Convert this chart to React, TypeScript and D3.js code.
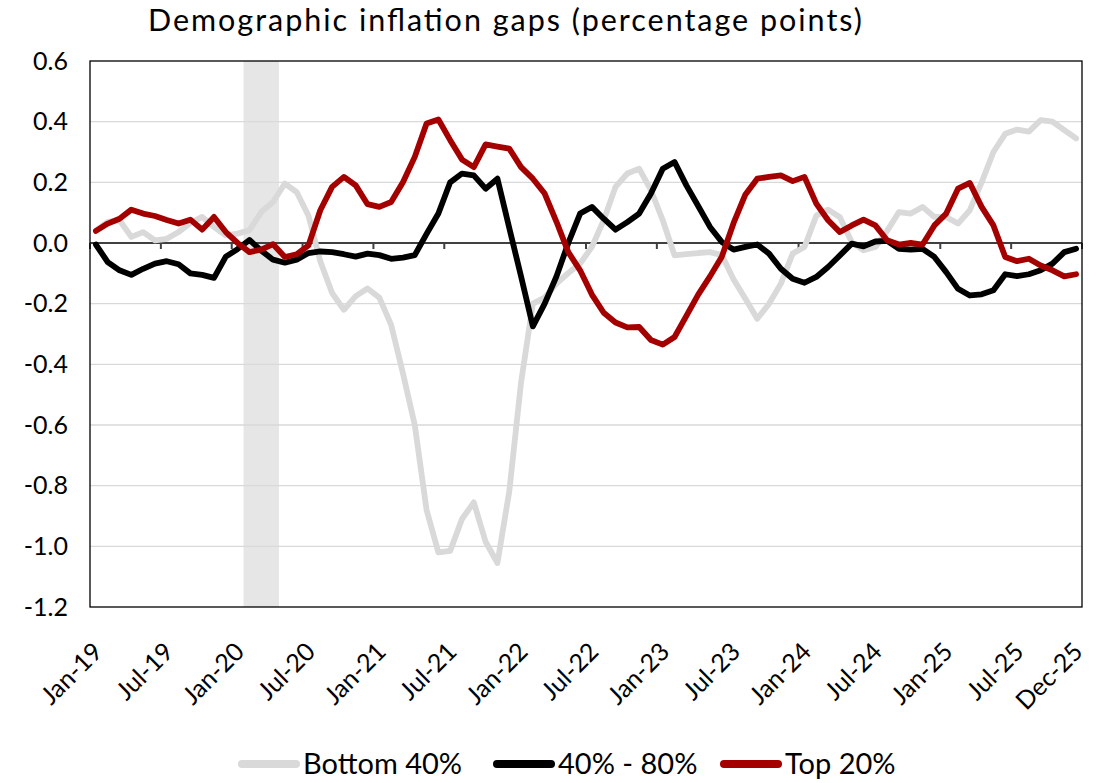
import React from "react";
import * as d3 from "d3";

// categories: one per month, Jan-19 .. Dec-25
const months: string[] = d3
  .timeMonth.range(new Date(2019, 0, 1), new Date(2026, 0, 1))
  .map(d3.timeFormat("%b-%y"));

const xTickLabels = [
  "Jan-19", "Jul-19", "Jan-20", "Jul-20", "Jan-21", "Jul-21", "Jan-22", "Jul-22",
  "Jan-23", "Jul-23", "Jan-24", "Jul-24", "Jan-25", "Jul-25", "Dec-25",
];

const yTicks = [0.6, 0.4, 0.2, 0, -0.2, -0.4, -0.6, -0.8, -1.0, -1.2];

const recessionMonths = ["Feb-20", "Mar-20", "Apr-20"];

const bottom40 = [
  0.04, 0.07, 0.075, 0.02, 0.036, 0.009, 0.014, 0.036, 0.066, 0.086,
  0.053, 0.025, 0.031, 0.042, 0.102, 0.135, 0.196, 0.168, 0.09, -0.06,
  -0.165, -0.22, -0.175, -0.15, -0.18, -0.27, -0.43, -0.6, -0.88, -1.02,
  -1.015, -0.91, -0.855, -0.985, -1.055, -0.82, -0.46, -0.2, -0.18, -0.134,
  -0.099, -0.068, -0.013, 0.075, 0.185, 0.229, 0.245, 0.174, 0.075, -0.041,
  -0.037, -0.033, -0.03, -0.04, -0.12, -0.184, -0.25, -0.2, -0.134, -0.035,
  -0.013, 0.09, 0.11, 0.085, 0.003, -0.024, -0.013, 0.04, 0.102, 0.097,
  0.119, 0.086, 0.086, 0.064, 0.108, 0.2, 0.3, 0.36, 0.374, 0.367,
  0.405, 0.4, 0.372, 0.345,
];

const mid40to80 = [
  -0.005, -0.063, -0.09, -0.105, -0.085, -0.068, -0.06, -0.07, -0.1, -0.105,
  -0.115, -0.045, -0.02, 0.01, -0.025, -0.055, -0.065, -0.055, -0.033, -0.028,
  -0.03, -0.037, -0.045, -0.035, -0.04, -0.052, -0.048, -0.04, 0.03, 0.097,
  0.2, 0.229, 0.223, 0.179, 0.212, 0.05, -0.11, -0.275, -0.2, -0.11,
  0.0, 0.097, 0.119, 0.08, 0.044, 0.069, 0.097, 0.163, 0.245, 0.267,
  0.19, 0.122, 0.053, 0.003, -0.022, -0.013, -0.005, -0.035, -0.085, -0.118,
  -0.131, -0.112, -0.079, -0.041, -0.002, -0.011, 0.005, 0.007, -0.019, -0.022,
  -0.019, -0.046, -0.096, -0.151, -0.173, -0.169, -0.156, -0.103, -0.109, -0.103,
  -0.09, -0.068, -0.03, -0.019,
];

const top20 = [
  0.04, 0.064, 0.08, 0.11, 0.097, 0.089, 0.076, 0.064, 0.077, 0.044,
  0.086, 0.036, 0.0, -0.03, -0.022, -0.004, -0.046, -0.037, -0.008, 0.108,
  0.185, 0.218, 0.19, 0.128, 0.119, 0.135, 0.2, 0.284, 0.394, 0.407,
  0.339, 0.275, 0.25, 0.325, 0.318, 0.311, 0.25, 0.212, 0.163, 0.07,
  -0.03, -0.09, -0.17, -0.23, -0.262, -0.278, -0.277, -0.32, -0.335, -0.31,
  -0.24, -0.17, -0.11, -0.045, 0.066, 0.16, 0.212, 0.218, 0.223, 0.204,
  0.218, 0.13, 0.075, 0.036, 0.058, 0.077, 0.058, 0.009, -0.005, 0.0,
  -0.005, 0.058, 0.097, 0.179, 0.198, 0.119, 0.058, -0.046, -0.06, -0.052,
  -0.074, -0.09, -0.11, -0.103,
];

const series = [
  { name: "Bottom 40%", values: bottom40, color: "#d9d9d9" },
  { name: "40% - 80%", values: mid40to80, color: "#000000" },
  { name: "Top 20%", values: top20, color: "#a50000" },
];

const W = 1109;
const H = 783;
const margin = { top: 61, right: 27, bottom: 176, left: 90 };
const FONT = "Lato, 'Open Sans', sans-serif";

export default function App() {
  const x = d3
    .scaleBand<string>()
    .domain(months)
    .range([margin.left, W - margin.right])
    .padding(0);
  const bw = x.bandwidth();
  const cx = (m: string) => (x(m) as number) + bw / 2;

  const y = d3
    .scaleLinear()
    .domain([-1.2, 0.6])
    .range([H - margin.bottom, margin.top]);

  const line = d3
    .line<number>()
    .x((_, i) => cx(months[i]))
    .y((v) => y(v));

  const [x0, x1] = x.range();
  const y0 = y(0);
  const lastLabel = xTickLabels[xTickLabels.length - 1];

  // legend item positions
  const legendX = [242, 497, 724];
  const legendY = 764;

  return (
    <div style={{ position: "absolute", left: 0, top: 0 }}>
      <svg width={W} height={H} style={{ display: "block", background: "#fff" }}>
        <text
          x={148}
          y={31}
          fontFamily={FONT}
          fontSize={30.5}
          fill="#000"
          textLength={714}
          lengthAdjust="spacing"
        >
          Demographic inflation gaps (percentage points)
        </text>

        {/* recession shading */}
        <rect
          x={x(recessionMonths[0])}
          y={y(0.6)}
          width={(x(recessionMonths[recessionMonths.length - 1]) as number) + bw - (x(recessionMonths[0]) as number)}
          height={y(-1.2) - y(0.6)}
          fill="#e6e6e6"
        />

        {/* gridlines */}
        {yTicks
          .filter((t) => t !== 0 && t !== 0.6 && t !== -1.2)
          .map((t) => (
            <line key={t} x1={x0} x2={x1} y1={y(t)} y2={y(t)} stroke="#d9d9d9" strokeWidth={1.3} />
          ))}

        {/* y labels */}
        {yTicks.map((t) => (
          <text
            key={"yl" + t}
            x={68}
            y={y(t)}
            dy="0.35em"
            textAnchor="end"
            fontFamily={FONT}
            fontSize={25}
            fill="#000"
          >
            {t.toFixed(1)}
          </text>
        ))}

        {/* zero axis with ticks */}
        <line x1={x0} x2={x1} y1={y0} y2={y0} stroke="#404040" strokeWidth={2} />
        {xTickLabels.map((l) => {
          const tx = l === lastLabel ? (x(l) as number) + bw : (x(l) as number);
          return <line key={"tk" + l} x1={tx} x2={tx} y1={y0} y2={y0 + 6} stroke="#404040" strokeWidth={2} />;
        })}

        {/* plot border */}
        <rect
          x={x0}
          y={y(0.6)}
          width={x1 - x0}
          height={y(-1.2) - y(0.6)}
          fill="none"
          stroke="#000"
          strokeWidth={1.3}
        />

        {/* series */}
        {series.map((s) => (
          <path
            key={s.name}
            d={line(s.values) || ""}
            fill="none"
            stroke={s.color}
            strokeWidth={5.8}
            strokeLinejoin="round"
            strokeLinecap="round"
          />
        ))}

        {/* x labels */}
        {xTickLabels.map((l) => {
          const px = cx(l) + 2;
          const py = 647;
          return (
            <text
              key={"xl" + l}
              x={px}
              y={py}
              dy="0.35em"
              textAnchor="end"
              transform={`rotate(-45, ${px}, ${py})`}
              fontFamily={FONT}
              fontSize={25}
              fill="#000"
            >
              {l}
            </text>
          );
        })}

        {/* legend */}
        {series.map((s, i) => (
          <g key={"lg" + s.name}>
            <line
              x1={legendX[i]}
              x2={legendX[i] + 54}
              y1={legendY}
              y2={legendY}
              stroke={s.color}
              strokeWidth={8}
              strokeLinecap="round"
            />
            <text
              x={legendX[i] + 61}
              y={legendY}
              dy="0.36em"
              fontFamily={FONT}
              fontSize={29}
              fill="#000"
            >
              {s.name}
            </text>
          </g>
        ))}
      </svg>
    </div>
  );
}
